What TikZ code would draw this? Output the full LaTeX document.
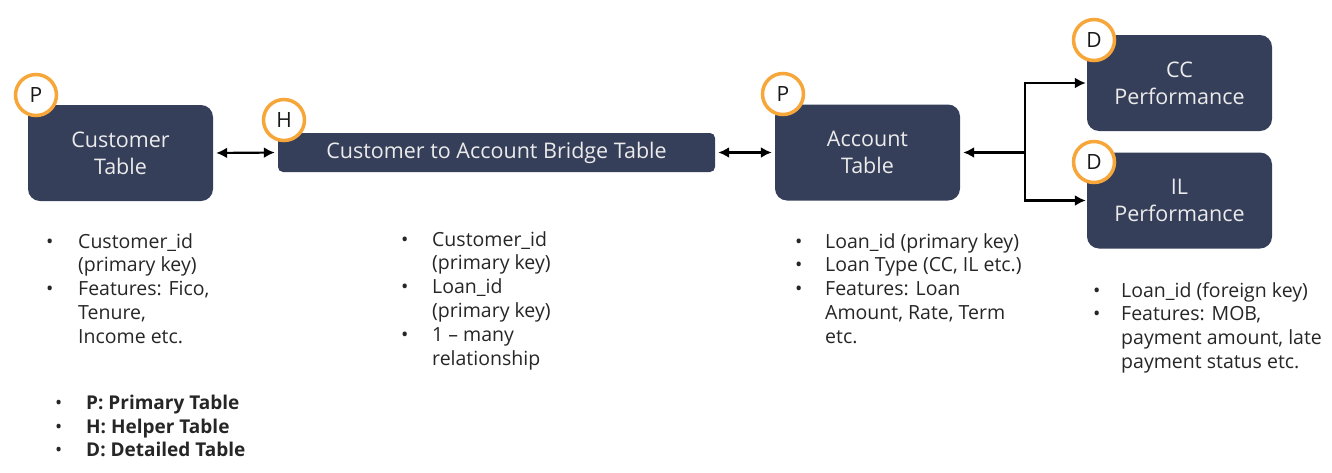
\documentclass[tikz,border=0pt]{standalone}
\usepackage{fontspec}
\setmainfont{Open Sans}
\usetikzlibrary{arrows.meta}
\definecolor{navy}{RGB}{54,63,90}
\definecolor{ring}{RGB}{247,166,58}
\newcommand{\bul}{\makebox[31pt][l]{\textbullet}}
\newcommand{\ind}{\hspace*{31pt}}

\begin{document}
\begin{tikzpicture}[x=1pt,y=-1pt,>={Latex[length=11pt,width=11pt]},
  tbl/.style={fill=navy,draw=none,rounded corners=12pt,text=white!92!black,
    align=center,font=\fontsize{21.5}{27}\selectfont,inner sep=0pt},
  badge/.style={circle,draw=ring,line width=3.5pt,fill=white,text=black!90,
    minimum size=41pt,inner sep=0pt,font=\fontsize{21}{24}\selectfont},
  link/.style={line width=2.2pt},
  notes/.style={anchor=north west,align=left,inner sep=0pt,text=black!85,
    font=\fontsize{19.5}{23.8}\selectfont}]
\useasboundingbox (0,0) rectangle (1332,472);

% tables
\node[tbl,minimum width=185pt,minimum height=96pt] (cust) at (120.5,153) {Customer\\Table};
\node[tbl,minimum width=437pt,minimum height=39pt,rounded corners=5pt] (bridge) at (496.5,152.5) {Customer to Account Bridge Table};
\node[tbl,minimum width=185pt,minimum height=96pt] (acct) at (867.5,152.5) {Account\\Table};
\node[tbl,minimum width=185pt,minimum height=96pt] (cc) at (1179.5,83) {CC\\Performance};
\node[tbl,minimum width=185pt,minimum height=96pt] (il) at (1179.5,200.5) {IL\\Performance};

% badges
\node[badge] (pc) at (36,95) {P};
\node[badge] (hb) at (284,120) {H};
\node[badge] (pa) at (783,94) {P};
\node[badge] (dc) at (1094,40) {D};
\node[badge] (di) at (1094,162) {D};

% links
\coordinate (fork) at (1025,152.5);
\draw[link,<->,shorten <=3pt,shorten >=3pt] (cust.east) -- (bridge.west);
\draw[link,<->,shorten <=3pt,shorten >=3pt] (bridge.east) -- (acct.west);
\draw[link,<-,shorten <=3pt] (acct.east) -- (fork);
\draw[link,->,shorten >=1pt] (fork) |- (cc.west);
\draw[link,->,shorten >=1pt] (fork) |- (il.west);

% notes
\node[notes] (ncust) at (46,233) {\makebox[32pt][l]{\textbullet}Customer\_id\\ \hspace*{32pt}(primary key)\\ \makebox[32pt][l]{\textbullet}Features: Fico,\\ \hspace*{32pt}Tenure,\\ \hspace*{32pt}Income etc.};
\node[notes] (nbridge) at (401,231) {\bul Customer\_id\\ \ind (primary key)\\ \bul Loan\_id\\ \ind (primary key)\\ \bul 1 -- many\\ \ind relationship};
\node[notes] (nacct) at (795,233) {\makebox[30pt][l]{\textbullet}Loan\_id (primary key)\\ \makebox[30pt][l]{\textbullet}Loan Type (CC, IL etc.)\\ \makebox[30pt][l]{\textbullet}Features: Loan\\ \hspace*{30pt}Amount, Rate, Term\\ \hspace*{30pt}etc.};
\node[notes] (nperf) at (1093,282) {\makebox[28pt][l]{\textbullet}Loan\_id (foreign key)\\ \makebox[28pt][l]{\textbullet}Features: MOB,\\ \hspace*{28pt}payment amount, late\\ \hspace*{28pt}payment status etc.};
\node[notes,font=\fontsize{19}{23.5}\selectfont\bfseries] (legend) at (55,395) {\makebox[31pt][l]{\mdseries\textbullet}P: Primary Table\\ \makebox[31pt][l]{\mdseries\textbullet}H: Helper Table\\ \makebox[31pt][l]{\mdseries\textbullet}D: Detailed Table};
\end{tikzpicture}
\end{document}
